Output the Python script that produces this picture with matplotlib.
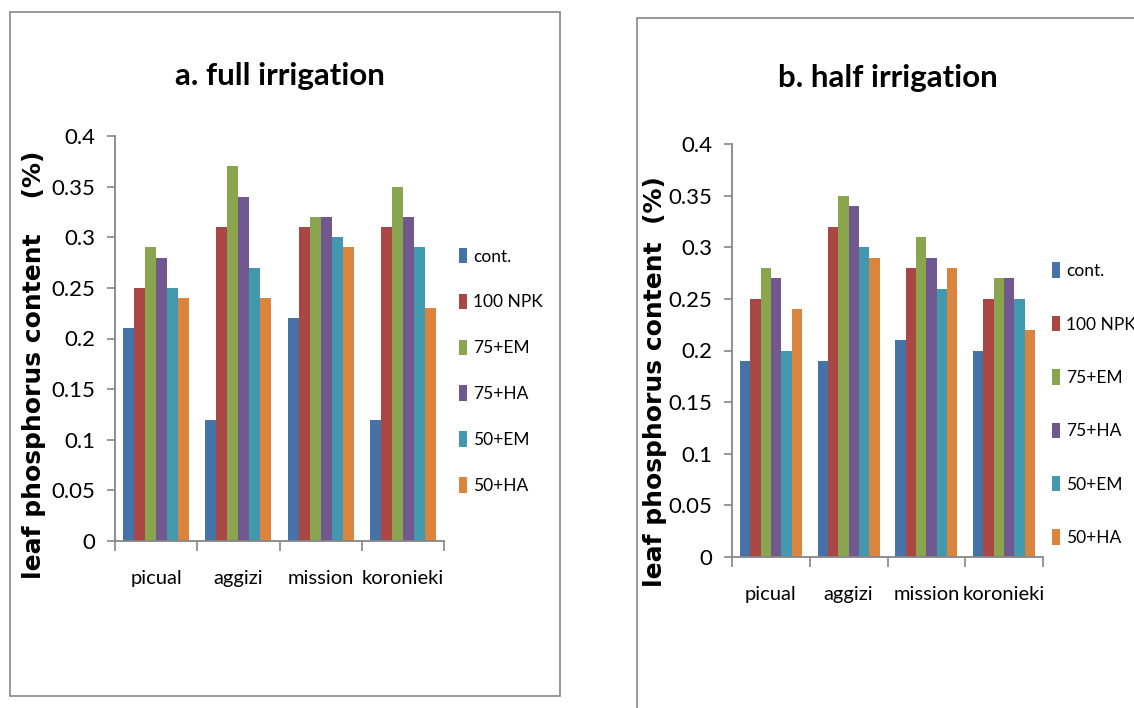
import matplotlib
matplotlib.use('Agg')
import matplotlib.pyplot as plt
from matplotlib.patches import Rectangle
import numpy as np

# данные
cultivars = ['picual', 'aggizi', 'mission', 'koronieki']
treatments = ['cont.', '100 NPK', '75+EM', '75+HA', '50+EM', '50+HA']
colors = ['#4572A7', '#AA4643', '#89A54E', '#71588F', '#4198AF', '#DB843D']

full_cont = [0.21, 0.12, 0.22, 0.12]
full_npk = [0.25, 0.31, 0.31, 0.31]
full_75em = [0.29, 0.37, 0.32, 0.35]
full_75ha = [0.28, 0.34, 0.32, 0.32]
full_50em = [0.25, 0.27, 0.30, 0.29]
full_50ha = [0.24, 0.24, 0.29, 0.23]

half_cont = [0.19, 0.19, 0.21, 0.20]
half_npk = [0.25, 0.32, 0.28, 0.25]
half_75em = [0.28, 0.35, 0.31, 0.27]
half_75ha = [0.27, 0.34, 0.29, 0.27]
half_50em = [0.20, 0.30, 0.26, 0.25]
half_50ha = [0.24, 0.29, 0.28, 0.22]

yticks = [0, 0.05, 0.1, 0.15, 0.2, 0.25, 0.3, 0.35, 0.4]
ytick_labels = ['0', '0.05', '0.1', '0.15', '0.2', '0.25', '0.3', '0.35', '0.4']

plt.rcParams['font.family'] = ['Lato', 'DejaVu Sans']
W, H = 1134, 708


def px_axes(fig, x0, y0, x1, y1):
    return fig.add_axes([x0 / W, 1 - y1 / H, (x1 - x0) / W, (y1 - y0) / H])


def draw_panel(ax, series, title, ylabel_text, title_pad, ylab_pos, leg_anchor, leg_space):
    n = len(series)
    bw = 1 / 7.5
    x = np.arange(len(cultivars))
    for i, vals in enumerate(series):
        ax.bar(x + (i - (n - 1) / 2) * bw, vals, width=bw, color=colors[i],
               label=treatments[i])
    ax.set_xlim(-0.5, len(cultivars) - 0.5)
    ax.set_ylim(0, 0.4)
    ax.set_yticks(yticks)
    ax.set_yticklabels(ytick_labels, fontsize=16)
    ax.set_xticks(x)
    ax.set_xticklabels(cultivars, fontsize=14.5)
    ax.set_xticks(np.arange(len(cultivars) + 1) - 0.5, minor=True)
    ax.tick_params(axis='x', which='major', length=0, pad=21)
    ax.tick_params(axis='x', which='minor', length=7, color='#868686', width=1.2)
    ax.tick_params(axis='y', length=6, color='#868686', width=1.2, pad=8)
    for s in ['top', 'right']:
        ax.spines[s].set_visible(False)
    for s in ['left', 'bottom']:
        ax.spines[s].set_color('#868686')
        ax.spines[s].set_linewidth(1.3)
    ax.set_title(title, fontsize=22.5, fontweight='bold', pad=title_pad)
    ax.set_ylabel(ylabel_text, fontsize=18, fontweight='bold', family=['DejaVu Sans'])
    ax.yaxis.set_label_coords(*ylab_pos)
    ax.legend(loc='center left', bbox_to_anchor=leg_anchor, frameon=False,
              fontsize=12.5, handlelength=0.46, handleheight=1.0,
              handletextpad=0.35, labelspacing=leg_space,
              borderaxespad=0, borderpad=0)


fig = plt.figure(figsize=(W / 100, H / 100), dpi=100)

# рамки панелей
fig.patches.append(Rectangle((10 / W, 1 - 696 / H), 550 / W, 684 / H,
                             transform=fig.transFigure, fill=False,
                             edgecolor='#888888', linewidth=1.2))
fig.patches.append(Rectangle((637 / W, 1 - 730 / H), 520 / W, 712 / H,
                             transform=fig.transFigure, fill=False,
                             edgecolor='#888888', linewidth=1.2))

ax1 = px_axes(fig, 115, 136, 444, 541)
draw_panel(ax1, [full_cont, full_npk, full_75em, full_75ha, full_50em, full_50ha],
           'a. full irrigation', 'leaf phosphorus content    (%)', 37,
           (-0.21, 0.435), (1.045, 0.42), 1.68)

ax2 = px_axes(fig, 732, 144, 1043, 557)
draw_panel(ax2, [half_cont, half_npk, half_75em, half_75ha, half_50em, half_50ha],
           'b. half irrigation', 'leaf phosphorus content  (%)', 41,
           (-0.208, 0.424), (1.03, 0.37), 2.11)

plt.savefig('out.png', dpi=100)
